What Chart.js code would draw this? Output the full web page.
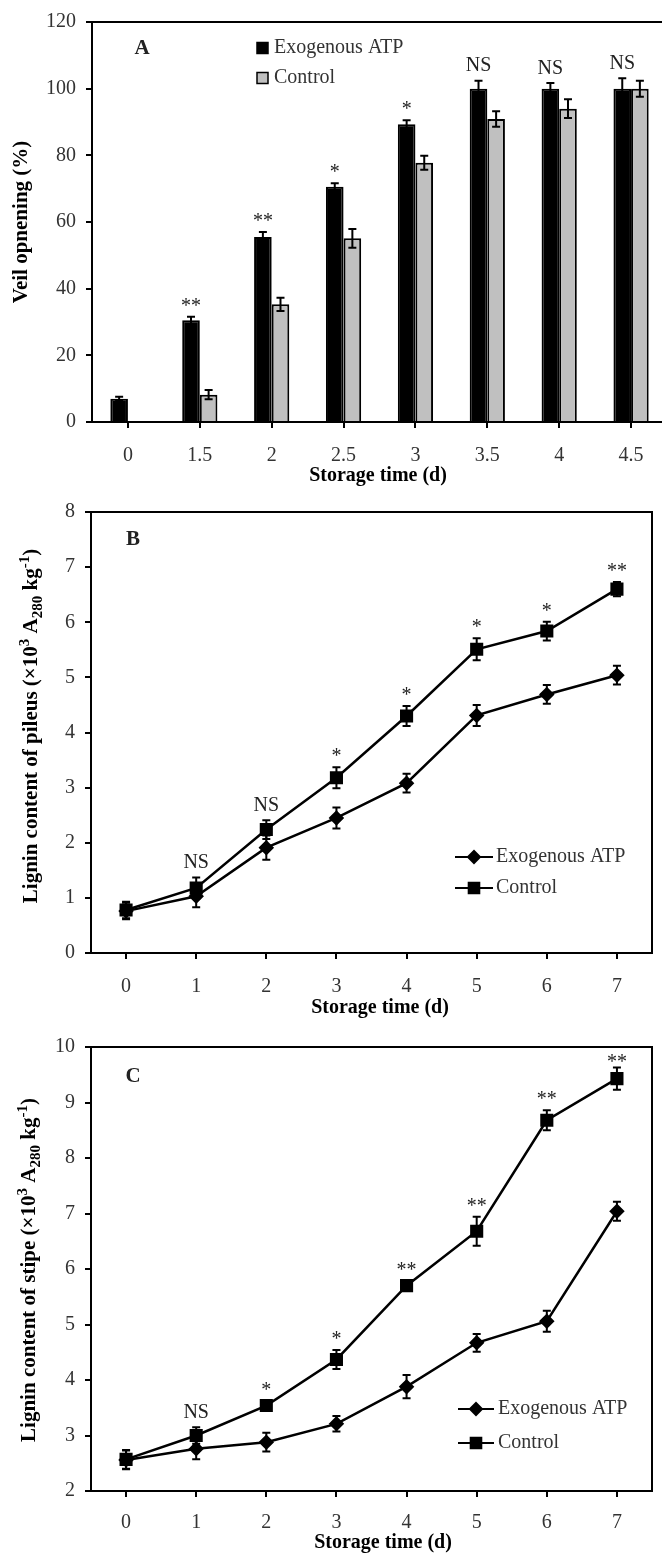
<!DOCTYPE html>
<html>
<head>
<meta charset="utf-8">
<script src="https://cdn.jsdelivr.net/npm/chart.js@4.4.1/dist/chart.umd.min.js"></script>
<style>
  html, body { margin: 0; padding: 0; background: #fff; overflow: hidden; }
  #wrap { position: relative; width: 662px; height: 1555px; overflow: hidden; }
  canvas { position: absolute; left: 0; }
</style>
</head>
<body>
<div id="wrap">
  <canvas id="chartA" width="668" height="500" style="top:0px"></canvas>
  <canvas id="chartB" width="662" height="530" style="top:490px"></canvas>
  <canvas id="chartC" width="662" height="530" style="top:1025px"></canvas>
</div>
<script>
// ---- data ----
const daysA = ['0', '1.5', '2', '2.5', '3', '3.5', '4', '4.5'];
const veilAtp = [7, 30.5, 55.5, 70.6, 89.3, 100, 100, 100];
const veilAtpErr = [0.6, 1.1, 1.5, 1.0, 1.2, 2.4, 1.7, 3.1];
const veilControl = [null, 8.2, 35.3, 55.1, 77.8, 90.9, 94, 100];
const veilControlErr = [null, 1.4, 2.0, 2.8, 2.1, 2.3, 2.8, 2.4];
const veilSig = ['', '**', '**', '*', '*', 'NS', 'NS', 'NS'];

const daysBC = ['0', '1', '2', '3', '4', '5', '6', '7'];
const pileusAtp = [0.76, 1.03, 1.91, 2.45, 3.08, 4.31, 4.69, 5.04];
const pileusAtpErr = [0.15, 0.2, 0.22, 0.19, 0.17, 0.19, 0.17, 0.17];
const pileusControl = [0.78, 1.18, 2.24, 3.18, 4.30, 5.51, 5.84, 6.60];
const pileusControlErr = [0.15, 0.19, 0.17, 0.19, 0.18, 0.2, 0.17, 0.13];
const pileusSig = ['', 'NS', 'NS', '*', '*', '*', '*', '**'];

const stipeAtp = [2.56, 2.76, 2.88, 3.21, 3.88, 4.67, 5.06, 7.04];
const stipeAtpErr = [0.17, 0.19, 0.17, 0.14, 0.21, 0.16, 0.19, 0.17];
const stipeControl = [2.57, 3.0, 3.54, 4.37, 5.70, 6.68, 8.68, 9.43];
const stipeControlErr = [0.17, 0.15, 0.08, 0.17, 0.08, 0.26, 0.18, 0.2];
const stipeSig = ['', 'NS', '*', '*', '**', '**', '**', '**'];

const serif = "'Liberation Serif', 'Times New Roman', serif";
Chart.defaults.font.family = serif;
Chart.defaults.color = '#333';

function ligninTitle(part) {
  return [
    { t: 'Lignin content of ' + part + ' (\u00d710' },
    { t: '3', s: 'sup' },
    { t: ' A' },
    { t: '280', s: 'sub' },
    { t: ' kg' },
    { t: '-1', s: 'sup' },
    { t: ')' }
  ];
}

function drawYTitle(ctx, parts, baseX, centerY, size) {
  ctx.save();
  let total = 0;
  const segs = parts.map(p => {
    const fs = p.s ? Math.round(size * 0.7) : size;
    ctx.font = `bold ${fs}px ${serif}`;
    const w = ctx.measureText(p.t).width;
    total += w;
    return { t: p.t, s: p.s, fs: fs, w: w };
  });
  ctx.translate(baseX, centerY);
  ctx.rotate(-Math.PI / 2);
  ctx.textAlign = 'left';
  ctx.textBaseline = 'alphabetic';
  ctx.fillStyle = '#000';
  let x = -total / 2;
  segs.forEach(p => {
    ctx.font = `bold ${p.fs}px ${serif}`;
    const dy = p.s === 'sup' ? -size * 0.4 : (p.s === 'sub' ? size * 0.22 : 0);
    ctx.fillText(p.t, x, dy);
    x += p.w;
  });
  ctx.restore();
}

// error bars, significance marks, frame, titles and legend
const decoPlugin = {
  id: 'deco',
  afterDatasetsDraw(chart, args, opts) {
    const ctx = chart.ctx;
    const y = chart.scales.y;
    const area = chart.chartArea;

    // error bars
    chart.data.datasets.forEach((ds, di) => {
      if (!ds.errors) return;
      const meta = chart.getDatasetMeta(di);
      meta.data.forEach((el, i) => {
        const v = ds.data[i];
        const e = ds.errors[i];
        if (v == null || e == null) return;
        const top = y.getPixelForValue(v + e);
        const bot = y.getPixelForValue(v - e);
        ctx.save();
        ctx.strokeStyle = '#000';
        ctx.lineWidth = 2;
        ctx.beginPath();
        ctx.moveTo(el.x, top); ctx.lineTo(el.x, bot);
        ctx.moveTo(el.x - 4, top); ctx.lineTo(el.x + 4, top);
        ctx.moveTo(el.x - 4, bot); ctx.lineTo(el.x + 4, bot);
        ctx.stroke();
        ctx.restore();
      });
    });

    // significance marks (kept inside the frame)
    const ref = chart.data.datasets[opts.sigRef];
    const refMeta = chart.getDatasetMeta(opts.sigRef);
    opts.sig.forEach((s, i) => {
      if (!s) return;
      const el = refMeta.data[i];
      const capY = y.getPixelForValue(ref.data[i] + ref.errors[i]);
      const fs = 20;
      const star = s.indexOf('*') >= 0;
      const gap = Math.min(16, capY - area.top - 10);
      const cy = capY - gap;
      ctx.save();
      ctx.font = `${fs}px ${serif}`;
      ctx.fillStyle = '#222';
      ctx.textAlign = 'center';
      ctx.textBaseline = 'alphabetic';
      ctx.fillText(s, el.x, cy + (star ? 0.55 : 0.33) * fs);
      ctx.restore();
    });

    // frame
    ctx.save();
    ctx.strokeStyle = '#000';
    ctx.lineWidth = 2;
    ctx.strokeRect(area.left, area.top, area.right - area.left, area.bottom - area.top);
    ctx.restore();

    // panel letter
    ctx.save();
    ctx.font = `bold 21px ${serif}`;
    ctx.fillStyle = '#222';
    ctx.textAlign = 'center';
    ctx.textBaseline = 'middle';
    ctx.fillText(opts.letter, opts.letterX, opts.letterY);

    // x title
    ctx.font = `bold 20px ${serif}`;
    ctx.fillStyle = '#000';
    ctx.fillText('Storage time (d)', opts.xTitleX, opts.xTitleY);
    ctx.restore();

    // y title
    drawYTitle(ctx, opts.yTitle, opts.yTitleX, opts.yTitleY, 21);

    // legend
    const lg = opts.legend;
    chart.data.datasets.forEach((ds, di) => {
      const ly = lg.y[di];
      ctx.save();
      ctx.strokeStyle = '#000';
      ctx.fillStyle = ds.legendFill;
      if (lg.kind === 'box') {
        ctx.lineWidth = 1.5;
        ctx.fillRect(lg.x, ly - 5.5, 11, 11);
        ctx.strokeRect(lg.x, ly - 5.5, 11, 11);
      } else {
        ctx.lineWidth = 2;
        ctx.beginPath();
        ctx.moveTo(lg.x, ly); ctx.lineTo(lg.x + lg.len, ly);
        ctx.stroke();
        Chart.helpers.drawPoint(ctx, {
          pointStyle: ds.pointStyle, radius: ds.pointRadius, borderWidth: 1
        }, lg.x + lg.len / 2, ly);
        ctx.fill();
      }
      ctx.font = `20px ${serif}`;
      ctx.fillStyle = '#333';
      ctx.textAlign = 'left';
      ctx.textBaseline = 'middle';
      ctx.fillText(ds.label, lg.textX, ly);
      ctx.restore();
    });
  }
};

function axes(yMin, yMax, step, yWidth, xHeight, xPad, offsetX) {
  return {
    x: {
      offset: offsetX,
      afterFit(scale) { scale.height = xHeight; },
      grid: {
        offset: false, drawOnChartArea: false, drawTicks: true,
        tickLength: 6, color: '#000', lineWidth: 2
      },
      border: { display: true, color: '#000', width: 2 },
      ticks: { padding: xPad, font: { size: 20 }, color: '#333', maxRotation: 0 }
    },
    y: {
      min: yMin, max: yMax,
      afterFit(scale) { scale.width = yWidth; },
      grid: {
        drawOnChartArea: false, drawTicks: true,
        tickLength: 6, color: '#000', lineWidth: 2
      },
      border: { display: true, color: '#000', width: 2 },
      ticks: { stepSize: step, padding: 10, font: { size: 20 }, color: '#333' }
    }
  };
}

function lineDatasets(atp, atpErr, ctl, ctlErr) {
  return [
    {
      label: 'Exogenous ATP', data: atp, errors: atpErr,
      borderColor: '#000', backgroundColor: '#000', legendFill: '#000',
      borderWidth: 2.5, tension: 0,
      pointStyle: 'rectRot', pointRadius: 6, pointBackgroundColor: '#000', pointBorderColor: '#000'
    },
    {
      label: 'Control', data: ctl, errors: ctlErr,
      borderColor: '#000', backgroundColor: '#000', legendFill: '#000',
      borderWidth: 2.5, tension: 0,
      pointStyle: 'rect', pointRadius: 7.5, pointBackgroundColor: '#000', pointBorderColor: '#000'
    }
  ];
}

try {
  new Chart(document.getElementById('chartA'), {
    type: 'bar',
    data: {
      labels: daysA,
      datasets: [
        {
          label: 'Exogenous ATP', data: veilAtp, errors: veilAtpErr,
          backgroundColor: '#000', legendFill: '#000', borderColor: '#000', borderWidth: 2,
          categoryPercentage: 0.49, barPercentage: 1.0
        },
        {
          label: 'Control', data: veilControl, errors: veilControlErr,
          backgroundColor: '#c0c0c0', legendFill: '#c0c0c0', borderColor: '#000', borderWidth: 2,
          categoryPercentage: 0.49, barPercentage: 1.0
        }
      ]
    },
    options: {
      responsive: false,
      animation: false,
      layout: { padding: { top: 16, right: 1, left: 0, bottom: 0 } },
      scales: axes(0, 120, 20, 92, 78, 16, true),
      plugins: {
        legend: { display: false },
        tooltip: { enabled: false },
        deco: {
          sig: veilSig, sigRef: 0,
          letter: 'A', letterX: 142, letterY: 49,
          xTitleX: 378, xTitleY: 476,
          yTitle: [{ t: 'Veil opnening (%)' }], yTitleX: 27, yTitleY: 222,
          legend: { kind: 'box', x: 257, y: [48, 78], textX: 274 }
        }
      }
    },
    plugins: [decoPlugin]
  });

  new Chart(document.getElementById('chartB'), {
    type: 'line',
    data: { labels: daysBC, datasets: lineDatasets(pileusAtp, pileusAtpErr, pileusControl, pileusControlErr) },
    options: {
      responsive: false,
      animation: false,
      layout: { padding: { top: 16, right: 2, left: 0, bottom: 0 } },
      scales: axes(0, 8, 1, 91, 67, 16, true),
      plugins: {
        legend: { display: false },
        tooltip: { enabled: false },
        deco: {
          sig: pileusSig, sigRef: 1,
          letter: 'B', letterX: 133, letterY: 50,
          xTitleX: 380, xTitleY: 518,
          yTitle: ligninTitle('pileus'), yTitleX: 37, yTitleY: 236,
          legend: { kind: 'line', x: 455, len: 38, y: [367, 398], textX: 496 }
        }
      }
    },
    plugins: [decoPlugin]
  });

  new Chart(document.getElementById('chartC'), {
    type: 'line',
    data: { labels: daysBC, datasets: lineDatasets(stipeAtp, stipeAtpErr, stipeControl, stipeControlErr) },
    options: {
      responsive: false,
      animation: false,
      layout: { padding: { top: 18, right: 2, left: 0, bottom: 0 } },
      scales: axes(2, 10, 1, 91, 64, 14, true),
      plugins: {
        legend: { display: false },
        tooltip: { enabled: false },
        deco: {
          sig: stipeSig, sigRef: 1,
          letter: 'C', letterX: 133, letterY: 52,
          xTitleX: 383, xTitleY: 518,
          yTitle: ligninTitle('stipe'), yTitleX: 35, yTitleY: 245,
          legend: { kind: 'line', x: 458, len: 36, y: [384, 418], textX: 498 }
        }
      }
    },
    plugins: [decoPlugin]
  });
} catch (error) {
  console.error('Error creating charts:', error);
  throw error;
}
</script>
</body>
</html>
